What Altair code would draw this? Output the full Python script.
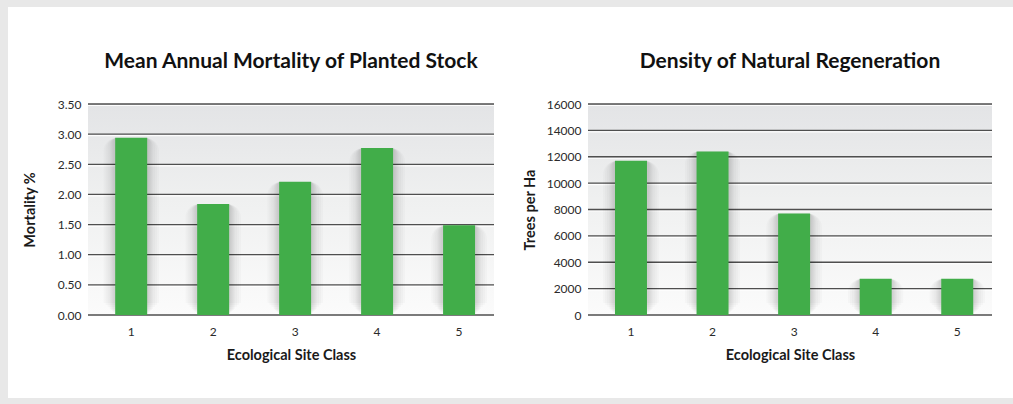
import altair as alt
import pandas as pd

# Ecological site classes and measured values
site_classes = ["1", "2", "3", "4", "5"]
mortality_pct = [2.94, 1.84, 2.21, 2.77, 1.49]
trees_per_ha = [11700, 12400, 7700, 2750, 2750]

mortality_ticks = [0, 0.5, 1.0, 1.5, 2.0, 2.5, 3.0, 3.5]
density_ticks = [0, 2000, 4000, 6000, 8000, 10000, 12000, 14000, 16000]

FONT = "Lato"
GREEN = "#41ad49"
PLOT_W_LEFT, PLOT_W_RIGHT, PLOT_H = 406, 404, 211

one_row = pd.DataFrame({"k": [0]})


def panel(values, ticks, fmt, title, y_title, y_title_pad, plot_w, domain_max):
    df = pd.DataFrame({"site": site_classes, "value": values})
    grid_df = pd.DataFrame({"value": ticks})

    x_enc = alt.X(
        "site:N",
        sort=site_classes,
        scale=alt.Scale(paddingInner=0.607, paddingOuter=0.28, align=0.59),
        axis=alt.Axis(
            title="Ecological Site Class",
            labelAngle=0,
            ticks=False,
            domain=False,
            labelPadding=11,
            titlePadding=11,
            zindex=2,
        ),
    )
    y_scale = alt.Scale(domain=[0, domain_max], nice=False)
    y_axis = alt.Axis(
        title=y_title,
        values=ticks,
        format=fmt,
        grid=False,
        ticks=False,
        domain=False,
        labelPadding=7,
        titlePadding=y_title_pad,
        zindex=2,
    )

    # soft grey plot background
    backdrop = alt.Chart(one_row).mark_rect(
        color=alt.LinearGradient(
            gradient="linear",
            stops=[
                alt.GradientStop(color="#e3e4e6", offset=0),
                alt.GradientStop(color="#eff0f0", offset=0.45),
                alt.GradientStop(color="#fbfbfb", offset=1),
            ],
            x1=0, x2=0, y1=0, y2=1,
        )
    ).encode(
        x=alt.value(0), x2=alt.value(plot_w), y=alt.value(0), y2=alt.value(PLOT_H)
    )

    grid_light = alt.Chart(grid_df).mark_rule(
        color="#ffffff", strokeWidth=1.2, opacity=0.9, yOffset=1.5
    ).encode(y=alt.Y("value:Q", scale=y_scale, axis=y_axis),
             x=alt.value(0), x2=alt.value(plot_w))
    grid_dark = alt.Chart(grid_df).mark_rule(
        color="#4f4f4f", strokeWidth=1.3
    ).encode(y=alt.Y("value:Q", scale=y_scale, axis=y_axis),
             x=alt.value(0), x2=alt.value(plot_w))

    heading = alt.Chart(one_row).mark_text(
        text=title, font=FONT, fontSize=21, fontWeight="bold", color="#111111",
        align="center", baseline="alphabetic",
    ).encode(x=alt.value(plot_w / 2), y=alt.value(-36))

    base = alt.Chart(df).encode(
        x=x_enc,
        y=alt.Y("value:Q", scale=y_scale, axis=y_axis),
    )

    # stacked translucent halos give each bar a soft drop shadow
    shadows = [
        base.mark_bar(color="#000000", opacity=0.018, size=32 + 2 * d,
                      yOffset=-d, y2Offset=d, cornerRadius=d + 2)
        for d in [12, 10, 8, 6, 5, 4, 3, 2]
    ]
    bars = base.mark_bar(color=GREEN, size=32)

    return [backdrop, grid_light, grid_dark, *shadows, bars, heading]


# white card behind both panels
card = alt.Chart(one_row).mark_rect(color="#ffffff").encode(
    x=alt.value(-80), x2=alt.value(925), y=alt.value(-97), y2=alt.value(294)
)

left = alt.layer(
    card,
    *panel(mortality_pct, mortality_ticks, ".2f",
           "Mean Annual Mortality of Planted Stock", "Mortality %", 20,
           PLOT_W_LEFT, 3.5),
).properties(width=PLOT_W_LEFT, height=PLOT_H)

right = alt.layer(
    *panel(trees_per_ha, density_ticks, "d",
           "Density of Natural Regeneration", "Trees per Ha", 9,
           PLOT_W_RIGHT, 16000),
).properties(width=PLOT_W_RIGHT, height=PLOT_H)

chart = alt.hconcat(left, right, spacing=94, bounds="flush").properties(
    background="#e8e8e8",
    padding={"left": 8, "top": 7, "right": 0, "bottom": 6},
).configure_view(stroke=None).configure_axis(
    labelFont=FONT,
    labelFontSize=12,
    labelColor="#2a2a2a",
    titleFont=FONT,
    titleFontSize=14.5,
    titleFontWeight="bold",
    titleColor="#1a1a1a",
)

chart.save("out.html", embed_options={"renderer": "svg", "actions": False})
